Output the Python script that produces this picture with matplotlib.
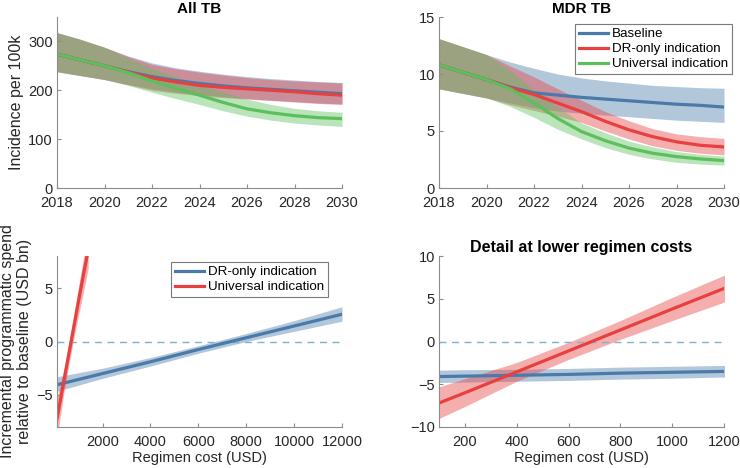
import numpy as np
import matplotlib
matplotlib.use('Agg')
import matplotlib.pyplot as plt

plt.rcParams['font.family'] = ['Liberation Sans', 'DejaVu Sans']

# incidence projections
years = [2018, 2019, 2020, 2021, 2022, 2023, 2024, 2025, 2026, 2027, 2028, 2029, 2030]

all_base = [274, 262, 250, 238, 228, 220, 214, 209, 205, 202, 199, 196, 193]
all_base_lo = [238, 230, 222, 212, 203, 196, 191, 187, 183, 180, 177, 174, 172]
all_base_hi = [318, 304, 288, 270, 256, 246, 239, 233, 228, 224, 221, 218, 216]
all_dr = [274, 262, 250, 237, 225, 217, 210, 206, 203, 200, 197, 193, 190]
all_dr_lo = [238, 230, 222, 211, 200, 194, 189, 185, 182, 179, 176, 173, 171]
all_dr_hi = [318, 304, 288, 269, 253, 244, 237, 231, 226, 222, 219, 217, 215]
all_uni = [274, 262, 250, 236, 219, 204, 190, 175, 162, 154, 148, 144, 142]
all_uni_lo = [238, 230, 222, 210, 196, 183, 171, 158, 147, 139, 133, 129, 126]
all_uni_hi = [318, 304, 288, 266, 245, 228, 212, 196, 182, 171, 163, 158, 155]

mdr_base = [10.8, 10.15, 9.5, 8.85, 8.35, 8.15, 7.95, 7.8, 7.65, 7.5, 7.35, 7.25, 7.1]
mdr_base_lo = [8.7, 8.3, 7.9, 7.45, 7.05, 6.75, 6.55, 6.4, 6.25, 6.1, 5.95, 5.85, 5.75]
mdr_base_hi = [13.1, 12.4, 11.7, 11.05, 10.5, 10.0, 9.65, 9.4, 9.2, 9.0, 8.9, 8.8, 8.75]
mdr_dr = [10.8, 10.15, 9.5, 8.8, 8.2, 7.45, 6.7, 5.85, 5.1, 4.5, 4.05, 3.75, 3.6]
mdr_dr_lo = [8.7, 8.3, 7.9, 7.3, 6.8, 6.3, 5.75, 5.0, 4.3, 3.7, 3.3, 3.05, 2.9]
mdr_dr_hi = [13.1, 12.4, 11.7, 10.7, 9.75, 8.7, 7.7, 6.7, 5.9, 5.2, 4.75, 4.5, 4.35]
mdr_uni = [10.8, 10.15, 9.5, 8.7, 7.45, 6.1, 4.95, 4.15, 3.5, 3.05, 2.75, 2.55, 2.4]
mdr_uni_lo = [8.7, 8.3, 7.9, 7.15, 6.2, 5.15, 4.3, 3.55, 2.95, 2.55, 2.25, 2.1, 2.0]
mdr_uni_hi = [13.1, 12.4, 11.7, 10.3, 8.6, 7.1, 5.7, 4.85, 4.1, 3.6, 3.2, 2.95, 2.8]

# incremental spend vs regimen cost
cost_wide = [100, 2000, 4000, 6000, 8000, 10000, 12000]
spend_dr_wide = [-4.05, -3.0, -1.9, -0.75, 0.35, 1.45, 2.55]
spend_dr_wide_lo = [-4.65, -3.45, -2.3, -1.1, 0.0, 0.95, 1.9]
spend_dr_wide_hi = [-3.3, -2.5, -1.5, -0.4, 0.75, 1.95, 3.25]

cost_fine = [100, 200, 400, 600, 800, 1000, 1200, 1400]
spend_dr = [-4.1, -4.05, -3.95, -3.85, -3.7, -3.6, -3.5, -3.4]
spend_dr_lo = [-4.8, -4.75, -4.65, -4.55, -4.4, -4.3, -4.15, -4.05]
spend_dr_hi = [-3.35, -3.3, -3.25, -3.15, -3.0, -2.9, -2.8, -2.7]
spend_uni = [-7.2, -6.0, -3.55, -1.1, 1.35, 3.8, 6.2, 8.5]
spend_uni_lo = [-9.0, -7.6, -4.65, -2.1, 0.25, 2.45, 4.6, 6.8]
spend_uni_hi = [-5.3, -4.35, -2.45, -0.1, 2.45, 5.15, 7.75, 10.2]

blue = '#4a7aaa'
red = '#e8403e'
green = '#5cbf5c'
band_alpha = 0.42
lw = 2.3
spine_col = '#8c8c8c'
text_col = '#262626'

fig = plt.figure(figsize=(7.4, 4.68), dpi=100)
ax1 = fig.add_axes([57/740, 1-188/468, 285/740, 171/468])
ax2 = fig.add_axes([439/740, 1-188/468, 285/740, 171/468])
ax3 = fig.add_axes([57/740, 1-427/468, 285/740, 171/468])
ax4 = fig.add_axes([439/740, 1-427/468, 285/740, 171/468])


def style(ax):
    for s in ['top', 'right']:
        ax.spines[s].set_visible(False)
    for s in ['left', 'bottom']:
        ax.spines[s].set_color(spine_col)
        ax.spines[s].set_linewidth(0.8)
    ax.tick_params(direction='in', length=3, width=0.8, color=spine_col,
                   labelsize=10.5, labelcolor=text_col)
    ax.tick_params(axis='x', pad=6)
    ax.tick_params(axis='y', pad=3)


def band(ax, x, lo, hi, mid, col, label=None):
    ax.fill_between(x, lo, hi, color=col, alpha=band_alpha, lw=0)
    ax.plot(x, mid, color=col, lw=lw, label=label)


def legend(ax, anchor):
    leg = ax.legend(loc='upper right', bbox_to_anchor=anchor,
                    bbox_transform=fig.transFigure, fontsize=9.6, fancybox=False,
                    framealpha=1, edgecolor='#7a7a7a', handlelength=2.2,
                    borderpad=0.3, labelspacing=0.2, handletextpad=0.3,
                    borderaxespad=0)
    leg.get_frame().set_linewidth(0.8)


# All TB
band(ax1, years, all_base_lo, all_base_hi, all_base, blue)
band(ax1, years, all_dr_lo, all_dr_hi, all_dr, red)
band(ax1, years, all_uni_lo, all_uni_hi, all_uni, green)
ax1.set_xlim(2018, 2030)
ax1.set_ylim(0, 350)
ax1.set_xticks(range(2018, 2031, 2))
ax1.set_yticks([0, 100, 200, 300])
ax1.set_ylabel('Incidence per 100k', fontsize=11.5, color=text_col, labelpad=3)
ax1.set_title('All TB', fontsize=11, fontweight='bold', pad=3)
style(ax1)

# MDR TB
band(ax2, years, mdr_base_lo, mdr_base_hi, mdr_base, blue, 'Baseline')
band(ax2, years, mdr_dr_lo, mdr_dr_hi, mdr_dr, red, 'DR-only indication')
band(ax2, years, mdr_uni_lo, mdr_uni_hi, mdr_uni, green, 'Universal indication')
ax2.set_xlim(2018, 2030)
ax2.set_ylim(0, 15)
ax2.set_xticks(range(2018, 2031, 2))
ax2.set_yticks([0, 5, 10, 15])
ax2.set_title('MDR TB', fontsize=11, fontweight='bold', pad=3)
style(ax2)
legend(ax2, (732/740, 1-24/468))

# incremental spend, full range
ax3.axhline(0, color='#7fb3cc', lw=1, ls=(0, (5, 4)))
band(ax3, cost_wide, spend_dr_wide_lo, spend_dr_wide_hi, spend_dr_wide, blue, 'DR-only indication')
band(ax3, cost_fine, spend_uni_lo, spend_uni_hi, spend_uni, red, 'Universal indication')
ax3.set_xlim(100, 12000)
ax3.set_ylim(-8, 8)
ax3.set_xticks(range(2000, 12001, 2000))
ax3.set_yticks([-5, 0, 5])
ax3.set_xlabel('Regimen cost (USD)', fontsize=10.5, color=text_col, labelpad=1)
ax3.set_ylabel('Incremental programmatic spend\nrelative to baseline (USD bn)',
               fontsize=11.5, color=text_col, labelpad=3)
style(ax3)
legend(ax3, (328/740, 1-262/468))

# detail at lower costs
ax4.axhline(0, color='#7fb3cc', lw=1, ls=(0, (5, 4)))
band(ax4, cost_fine, spend_dr_lo, spend_dr_hi, spend_dr, blue)
band(ax4, cost_fine, spend_uni_lo, spend_uni_hi, spend_uni, red)
ax4.set_xlim(100, 1200)
ax4.set_ylim(-10, 10)
ax4.set_xticks(range(200, 1201, 200))
ax4.set_yticks([-10, -5, 0, 5, 10])
ax4.set_xlabel('Regimen cost (USD)', fontsize=10.5, color=text_col, labelpad=1)
ax4.set_title('Detail at lower regimen costs', fontsize=11.5, fontweight='bold', pad=3)
style(ax4)

fig.savefig('out.png', dpi=100)
